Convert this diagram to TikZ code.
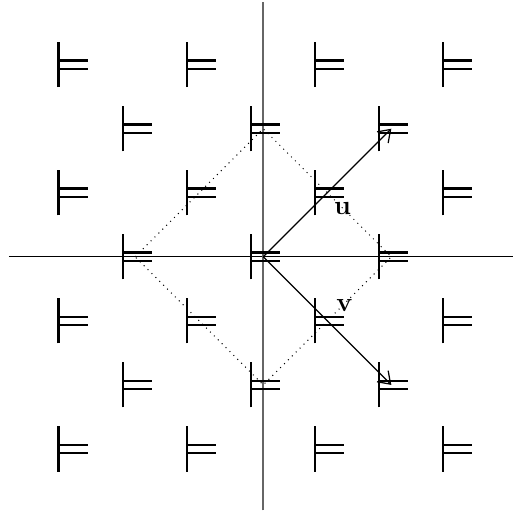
\documentclass[tikz,border=0pt]{standalone}
\usepackage{amsmath,amssymb}
\usepackage{tikz}
\usetikzlibrary{arrows.meta}

\begin{document}
\begin{tikzpicture}[x=1cm,y=1cm,
                    sym/.style={line width=1pt},
                    vec/.style={-{Straight Barb[length=5pt,width=7pt]},line width=0.55pt},
                    lbl/.style={font=\large}]
  \useasboundingbox (-4.11,-3.99) rectangle (3.90,4.01);
  % axes
  \draw[line width=0.55pt] (-3.97,0) -- (4,0);
  \draw[line width=0.8pt,black!60] (0,-3.96) -- (0,3.98);
  % lattice points
  \foreach \i in {-3,-1,1,3}
    \foreach \j in {-3,-1,1,3}
      \coordinate (p\i\j) at (\i,\j);
  \foreach \i in {-2,0,2}
    \foreach \j in {-2,0,2}
      \coordinate (p\i\j) at (\i,\j);
  % the symbols
  \foreach \i/\j in {-3/-3,-3/-1,-3/1,-3/3,-1/-3,-1/-1,-1/1,-1/3,
                     1/-3,1/-1,1/1,1/3,3/-3,3/-1,3/1,3/3,
                     -2/-2,-2/0,-2/2,0/-2,0/0,0/2,2/-2,2/0,2/2}
    \draw[sym] (p\i\j) ++(-0.195,-0.352) -- ++(0,0.704)
               (p\i\j) ++(-0.195,0.066) -- ++(0.453,0)
               (p\i\j) ++(-0.195,-0.066) -- ++(0.453,0);
  % fundamental domain
  \draw[dotted,line width=0.45pt] (p-20) -- (p02) -- (p20) -- (p0-2) -- cycle;
  % basis vectors
  \draw[vec] (p00) -- (p22);
  \draw[vec] (p00) -- (p2-2);
  \node[lbl] (u) at (1.24,0.75) {$\mathbf{u}$};
  \node[lbl] (v) at (1.27,-0.76) {$\mathbf{v}$};
\end{tikzpicture}
\end{document}
